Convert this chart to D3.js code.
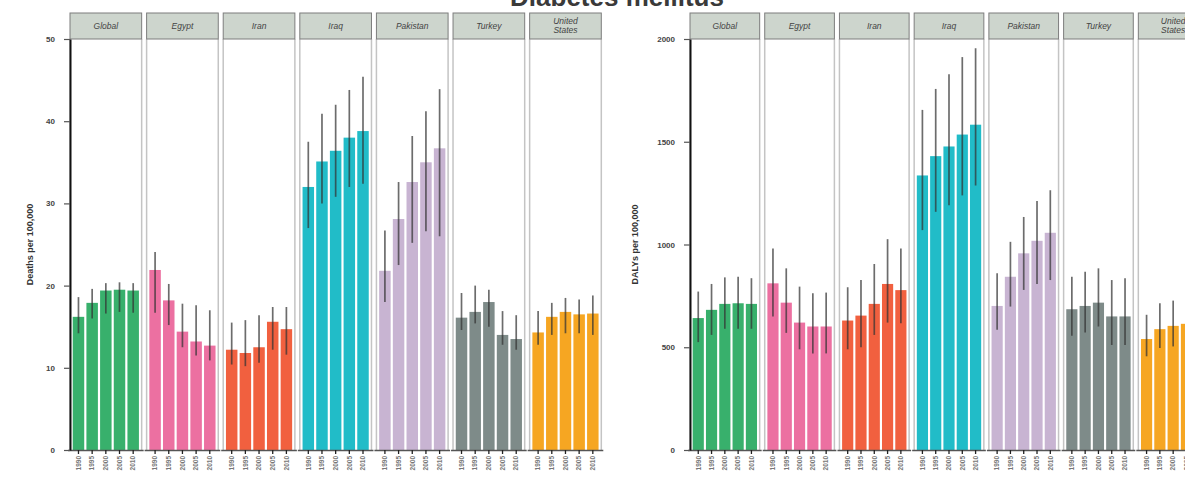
<!DOCTYPE html>
<html>
<head>
<meta charset="utf-8">
<script src="https://cdn.jsdelivr.net/npm/d3@7"></script>
<style>
  body { margin: 0; background: #fff; }
  svg { display: block; font-family: "Liberation Sans", Arial, sans-serif; }
</style>
</head>
<body>
<div id="chart"></div>
<script>
const width = 1185;
const height = 478;

const years = ["1990", "1995", "2000", "2005", "2010"];
const regions = ["Global", "Egypt", "Iran", "Iraq", "Pakistan", "Turkey", "United States"];
const regionColors = ["#38b06c", "#ec70a1", "#f1603f", "#21bcc8", "#c8b4d2", "#7e8b89", "#f6a622"];

// deaths per 100,000 (one row per region, one value per year)
const deathsMean = [
  [16.2, 17.9, 19.4, 19.5, 19.4],
  [21.9, 18.2, 14.4, 13.2, 12.7],
  [12.2, 11.8, 12.5, 15.6, 14.7],
  [32.0, 35.1, 36.4, 38.0, 38.8],
  [21.8, 28.1, 32.6, 35.0, 36.7],
  [16.1, 16.8, 18.0, 14.0, 13.5],
  [14.3, 16.2, 16.8, 16.5, 16.6]
];
const deathsLow = [
  [14.2, 16.0, 16.6, 16.8, 16.7],
  [16.7, 15.2, 12.5, 11.5, 10.9],
  [10.4, 10.2, 10.6, 12.2, 11.6],
  [27.0, 30.0, 30.8, 32.0, 32.4],
  [18.0, 22.5, 25.2, 26.6, 26.0],
  [14.6, 15.4, 15.0, 12.8, 12.2],
  [12.8, 14.0, 14.2, 14.2, 14.0]
];
const deathsHigh = [
  [18.6, 19.6, 20.3, 20.4, 20.3],
  [24.1, 20.2, 17.8, 17.6, 17.0],
  [15.5, 15.8, 16.4, 17.4, 17.4],
  [37.5, 40.9, 42.0, 43.8, 45.4],
  [26.7, 32.6, 38.2, 41.2, 43.9],
  [19.1, 20.0, 19.5, 16.9, 16.4],
  [16.9, 17.9, 18.5, 18.3, 18.8]
];

// DALYs per 100,000
const dalysMean = [
  [642, 682, 711, 714, 711],
  [811, 717, 620, 601, 601],
  [630, 654, 711, 808, 778],
  [1336, 1430, 1477, 1535, 1583],
  [701, 843, 957, 1018, 1057],
  [685, 701, 717, 650, 650],
  [540, 588, 604, 614, 615]
];
const dalysLow = [
  [525, 560, 590, 590, 590],
  [650, 570, 490, 470, 470],
  [490, 500, 560, 620, 617],
  [1070, 1159, 1191, 1239, 1287],
  [585, 698, 779, 808, 827],
  [556, 572, 601, 511, 511],
  [456, 496, 504, 510, 510]
];
const dalysHigh = [
  [771, 808, 840, 843, 836],
  [981, 884, 795, 763, 766],
  [792, 827, 905, 1026, 981],
  [1655, 1757, 1829, 1912, 1955],
  [860, 1013, 1134, 1212, 1264],
  [843, 868, 884, 827, 836],
  [658, 714, 727, 730, 735]
];

const deathsTicks = [0, 10, 20, 30, 40, 50];
const dalysTicks = [0, 500, 1000, 1500, 2000];

const svg = d3.select("#chart").append("svg")
  .attr("width", width)
  .attr("height", height);

// title, mostly cut off at the top of the picture
svg.append("text")
  .attr("x", 617)
  .attr("y", 6)
  .attr("text-anchor", "middle")
  .attr("font-size", 26)
  .attr("font-weight", "bold")
  .attr("fill", "#3a3a3a")
  .text("Diabetes mellitus");

const plotTop = 39;
const plotBottom = 450;
const stripTop = 13;

function drawChart(opts) {
  const yScale = d3.scaleLinear()
    .domain([0, opts.maxY])
    .range([plotBottom, plotTop]);

  const panelX = d3.scaleBand()
    .domain(regions)
    .range([opts.left, opts.left + opts.step * regions.length])
    .paddingInner(1 - opts.panelWidth / opts.step)
    .paddingOuter(0)
    .align(0);

  const g = svg.append("g");

  regions.forEach(function(region, r) {
    const px = panelX(region);
    const pw = panelX.bandwidth();
    const panel = g.append("g").attr("transform", `translate(${px},0)`);

    // panel side borders
    panel.append("line")
      .attr("x1", 0).attr("x2", 0)
      .attr("y1", plotTop).attr("y2", plotBottom)
      .attr("stroke", "#c4c4c4").attr("stroke-width", 1.5);
    panel.append("line")
      .attr("x1", pw).attr("x2", pw)
      .attr("y1", plotTop).attr("y2", plotBottom)
      .attr("stroke", "#c4c4c4").attr("stroke-width", 1.5);

    // strip
    panel.append("rect")
      .attr("x", 0).attr("y", stripTop)
      .attr("width", pw).attr("height", plotTop - stripTop)
      .attr("fill", "#cdd5cd")
      .attr("stroke", "#7d7d7d").attr("stroke-width", 1);
    const words = region.split(" ");
    const strip = panel.append("text")
      .attr("x", pw / 2)
      .attr("y", words.length > 1 ? stripTop + 11 : stripTop + 16)
      .attr("text-anchor", "middle")
      .attr("font-size", 8.5)
      .attr("font-style", "italic")
      .attr("fill", "#444");
    words.forEach(function(w, i) {
      strip.append("tspan")
        .attr("x", pw / 2)
        .attr("dy", i == 0 ? 0 : 9)
        .text(w);
    });

    const xScale = d3.scaleBand()
      .domain(years)
      .range([0, pw])
      .paddingInner(0.16)
      .paddingOuter(0.2);

    const rows = years.map(function(y, i) {
      return { year: y, mean: opts.mean[r][i], low: opts.low[r][i], high: opts.high[r][i] };
    });

    panel.selectAll("rect.bar")
      .data(rows)
      .enter()
      .append("rect")
      .attr("class", "bar")
      .attr("x", d => xScale(d.year))
      .attr("y", d => yScale(d.mean))
      .attr("width", xScale.bandwidth())
      .attr("height", d => plotBottom - yScale(d.mean))
      .attr("fill", regionColors[r]);

    panel.selectAll("line.err")
      .data(rows)
      .enter()
      .append("line")
      .attr("class", "err")
      .attr("x1", d => xScale(d.year) + xScale.bandwidth() / 2)
      .attr("x2", d => xScale(d.year) + xScale.bandwidth() / 2)
      .attr("y1", d => yScale(d.low))
      .attr("y2", d => yScale(d.high))
      .attr("stroke", "#333")
      .attr("stroke-opacity", 0.72)
      .attr("stroke-width", 1.7);

    // x axis for the panel
    const xAxis = d3.axisBottom(xScale).tickSize(4).tickSizeOuter(0);
    const ax = panel.append("g")
      .attr("transform", `translate(0,${plotBottom})`)
      .call(xAxis);
    ax.select(".domain")
      .attr("d", `M-2,0.5H${pw + 2}`)
      .attr("stroke", "#555").attr("stroke-width", 1.5);
    ax.selectAll(".tick line").attr("stroke", "#222").attr("stroke-width", 1.3);
    ax.selectAll(".tick text")
      .attr("transform", "rotate(-90)")
      .attr("x", -6)
      .attr("y", 0)
      .attr("dy", "0.35em")
      .attr("text-anchor", "end")
      .attr("font-size", 6.5)
      .attr("font-weight", "bold")
      .attr("fill", "#777");
  });

  // y axis
  const yAxis = d3.axisLeft(yScale)
    .tickValues(opts.ticks)
    .tickFormat(d3.format("d"))
    .tickSize(6).tickPadding(9).tickSizeOuter(0);
  const ya = g.append("g")
    .attr("transform", `translate(${opts.left},0)`)
    .call(yAxis);
  ya.select(".domain").attr("stroke", "#111").attr("stroke-width", 2);
  ya.selectAll(".tick line").attr("stroke", "#555").attr("stroke-width", 1.2);
  ya.selectAll(".tick text")
    .attr("font-size", 8)
    .attr("font-weight", "bold")
    .attr("fill", "#444");

  g.append("text")
    .attr("transform", `translate(${opts.titleX},${(plotTop + plotBottom) / 2}) rotate(-90)`)
    .attr("text-anchor", "middle")
    .attr("font-size", 9)
    .attr("font-weight", "bold")
    .attr("fill", "#333")
    .text(opts.yTitle);
}

drawChart({
  left: 70, step: 75.9, panelWidth: 71, maxY: 50, ticks: deathsTicks,
  mean: deathsMean, low: deathsLow, high: deathsHigh,
  yTitle: "Deaths per 100,000", titleX: 33
});

drawChart({
  left: 690, step: 74, panelWidth: 69, maxY: 2000, ticks: dalysTicks,
  mean: dalysMean, low: dalysLow, high: dalysHigh,
  yTitle: "DALYs per 100,000", titleX: 638
});
</script>
</body>
</html>
